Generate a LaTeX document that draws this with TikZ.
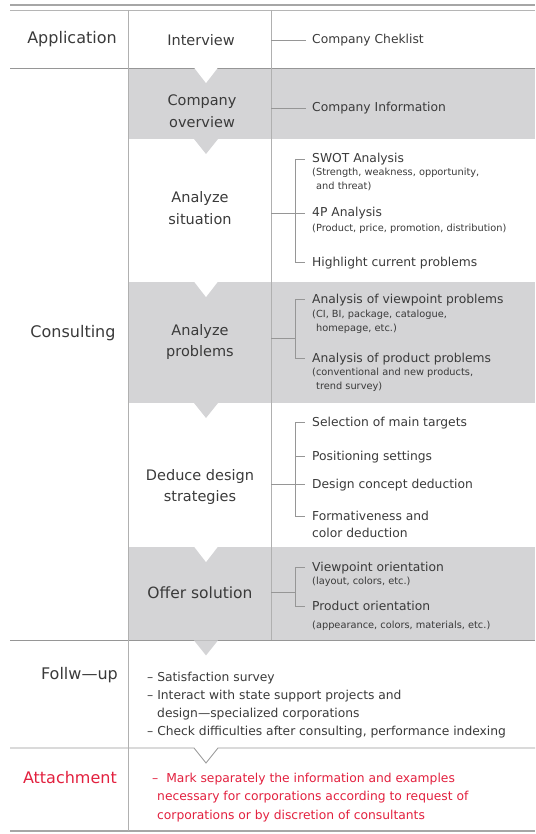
\documentclass[tikz,border=0pt]{standalone}
\usepackage{fontspec}
\setmainfont{DejaVu Sans}
\usetikzlibrary{positioning}

\definecolor{bandgray}{RGB}{212,212,214}
\definecolor{rulegray}{RGB}{150,150,150}
\definecolor{txtgray}{RGB}{58,58,58}
\definecolor{attred}{RGB}{226,32,62}

\newcommand{\itemtick}[1]{\draw[link] ([xshift=-17pt,yshift=4pt]#1.base west) -- ([xshift=-7pt,yshift=4pt]#1.base west);}

\begin{document}
\begin{tikzpicture}[x=1pt, y=-1pt,
	lab/.style={font=\fontsize{16}{19}\selectfont, text=txtgray, inner sep=0pt},
	midlab/.style={font=\fontsize{14.5}{21.5}\selectfont, text=txtgray, align=center, inner sep=0pt},
	entry/.style={font=\fontsize{12.3}{17}\selectfont, text=txtgray, anchor=base west, align=left, inner sep=0pt},
	note/.style={font=\fontsize{9.8}{14}\selectfont, text=txtgray, anchor=base west, align=left, inner sep=0pt},
	band/.style={fill=bandgray, draw=none},
	rowline/.style={draw=rulegray, line width=0.8pt},
	colline/.style={draw=rulegray!75, line width=0.7pt},
	link/.style={draw=rulegray, line width=0.6pt}]

\useasboundingbox (0,0) rectangle (535,834);

\foreach \ya/\yb in {68/139, 282/403, 547/640}
	\fill[bandgray] (128,\ya) rectangle (535,\yb);

\draw[draw=rulegray!85, line width=1.8pt] (10,5) -- (535,5);
\draw[draw=rulegray!70, line width=0.8pt] (10,10) -- (535,10);
\draw[rowline] (10,68) -- (535,68);
\draw[rowline] (10,640) -- (535,640);
\draw[draw=rulegray!85, line width=1.8pt] (10,831) -- (535,831);

\foreach \y in {68, 282, 547}
	\fill[white] (194,\y-0.5) -- (218,\y-0.5) -- (206,\y+15) -- cycle;
\foreach \y in {139, 403, 640.4}
	\fill[bandgray] (194,\y) -- (218,\y) -- (206,\y+15) -- cycle;

\fill[white] (194,748) -- (206,763) -- (218,748) -- cycle;
\draw[rowline] (10,748) -- (194,748) -- (206,763) -- (218,748) -- (535,748);

\draw[colline] (128,10) -- (128,831);
\draw[colline] (271,10) -- (271,640);

\coordinate (colx) at (271,0);
\coordinate (brk) at (295,0);

\node[lab] (app) at (72,39) {Application};
\node[midlab] (interview) at (201,40) {Interview};
\node[entry] (checklist) at (312,44) {Company Cheklist};
\draw[link] ([yshift=4pt]checklist.base west -| colx) -- ([xshift=-6pt,yshift=4pt]checklist.base west);

\node[midlab] (overview) at (202,111) {Company\\overview};
\node[entry] (info) at (312,112) {Company Information};
\draw[link] ([yshift=4pt]info.base west -| colx) -- ([xshift=-6pt,yshift=4pt]info.base west);

\node[midlab] (situation) at (200,208) {Analyze\\situation};
\node[entry] (swot) at (312,163) {SWOT Analysis};
\node[note] (swotnote) at (312,189.5) {(Strength, weakness, opportunity,\\\hspace{4pt}and threat)};
\node[entry] (fourp) at (312,217) {4P Analysis};
\node[note] (fourpnote) at (312,231.5) {(Product, price, promotion, distribution)};
\node[entry] (highlight) at (312,266) {Highlight current problems};
\itemtick{swot} \itemtick{fourp} \itemtick{highlight}
\draw[link] ([xshift=-17pt,yshift=4pt]swot.base west) -- ([xshift=-17pt,yshift=4pt]highlight.base west);
\draw[link] ([yshift=4pt]fourp.base west -| colx) -- ([yshift=4pt]fourp.base west -| brk);

\node[lab] (consulting) at (73,333) {Consulting};

\node[midlab] (problems) at (200,342) {Analyze\\problems};
\node[entry] (viewpt) at (312,303) {Analysis of viewpoint problems};
\node[note] (viewptnote) at (312,331) {(CI, BI, package, catalogue,\\\hspace{4pt}homepage, etc.)};
\node[entry] (product) at (312,362) {Analysis of product problems};
\node[note] (productnote) at (312,389.5) {(conventional and new products,\\\hspace{4pt}trend survey)};
\itemtick{viewpt} \itemtick{product}
\draw[link] ([xshift=-17pt,yshift=4pt]viewpt.base west) -- ([xshift=-17pt,yshift=4pt]product.base west);
\coordinate (probjoin) at (271,338);
\draw[link] (probjoin) -- (probjoin -| brk);

\node[midlab] (strategies) at (200,487) {Deduce design\\strategies};
\node[entry] (targets) at (312,426) {Selection of main targets};
\node[entry] (positioning) at (312,460) {Positioning settings};
\node[entry] (concept) at (312,488) {Design concept deduction};
\node[entry] (formative) at (312,537) {Formativeness and\\color deduction};
\itemtick{targets} \itemtick{positioning} \itemtick{concept}
\draw[link] ([xshift=-17pt,yshift=21pt]formative.base west) -- ([xshift=-7pt,yshift=21pt]formative.base west);
\draw[link] ([xshift=-17pt,yshift=4pt]targets.base west) -- ([xshift=-17pt,yshift=21pt]formative.base west);
\draw[link] ([yshift=4pt]concept.base west -| colx) -- ([yshift=4pt]concept.base west -| brk);

\node[midlab, font=\fontsize{15.5}{19}\selectfont] (solution) at (200,593) {Offer solution};
\node[entry] (vieworient) at (312,571) {Viewpoint orientation};
\node[note] (vieworientnote) at (312,584.5) {(layout, colors, etc.)};
\node[entry] (prodorient) at (312,610) {Product orientation};
\node[note] (prodorientnote) at (312,628) {(appearance, colors, materials, etc.)};
\itemtick{vieworient} \itemtick{prodorient}
\draw[link] ([xshift=-17pt,yshift=4pt]vieworient.base west) -- ([xshift=-17pt,yshift=4pt]prodorient.base west);
\coordinate (soljoin) at (271,592);
\draw[link] (soljoin) -- (soljoin -| brk);

\node[lab, anchor=east] (followup) at (118,675) {Follw—up};
\node[entry, font=\fontsize{12.3}{18.2}\selectfont] (followtext) at (147,735.6) {– Satisfaction survey\\– Interact with state support projects and\\\hspace{10pt}design—specialized corporations\\– Check difficulties after consulting, performance indexing};

\node[lab, anchor=east, text=attred] (attach) at (117,778) {Attachment};
\node[entry, text=attred, font=\fontsize{12.3}{18.8}\selectfont] (attachtext) at (152,819.6) {–\hspace{8pt}Mark separately the information and examples\\\hspace{5pt}necessary for corporations according to request of\\\hspace{5pt}corporations or by discretion of consultants};

\end{tikzpicture}
\end{document}
